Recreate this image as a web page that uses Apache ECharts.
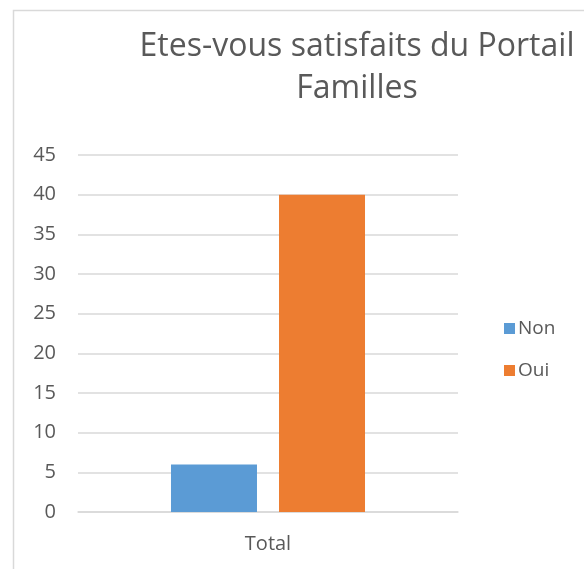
<!DOCTYPE html>
<html>
<head>
<meta charset="utf-8">
<script src="https://cdn.jsdelivr.net/npm/echarts@6/dist/echarts.min.js"></script>
<style>
  html, body { margin: 0; padding: 0; background: #fff; }
  #chart { width: 584px; height: 569px; }
</style>
</head>
<body>
<div id="chart"></div>
<script>
const categories = ['Total'];
const nonValues = [6];
const ouiValues = [40];
const seriesNames = ['Non', 'Oui'];

const textColor = '#595959';
const fontFamily = '"Open Sans", "Noto Sans", sans-serif';

const chart = echarts.init(document.getElementById('chart'));

chart.setOption({
  animation: false,
  title: {
    text: 'Etes-vous satisfaits du Portail\nFamilles',
    left: 352,
    top: 21,
    textAlign: 'center',
    textStyle: {
      fontFamily: fontFamily,
      fontWeight: 'normal',
      fontSize: 32,
      lineHeight: 42,
      color: textColor
    }
  },
  graphic: [{
    type: 'rect',
    shape: { x: 13.5, y: 10.5, width: 600, height: 600 },
    style: { fill: 'none', stroke: '#d9d9d9', lineWidth: 1.5 },
    silent: true
  }],
  legend: {
    orient: 'vertical',
    left: 499,
    top: 314,
    itemWidth: 11,
    itemHeight: 11,
    itemGap: 23,
    icon: 'rect',
    textStyle: { fontFamily: fontFamily, fontSize: 19, color: textColor, padding: [0, 0, 0, -2] },
    data: seriesNames
  },
  grid: { left: 78, right: 126, top: 155, bottom: 57 },
  xAxis: {
    type: 'category',
    data: categories,
    axisLine: { show: true, lineStyle: { color: '#d9d9d9', width: 1.5 } },
    axisTick: { show: false },
    axisLabel: { fontFamily: fontFamily, fontSize: 20, color: textColor, margin: 22 }
  },
  yAxis: {
    type: 'value',
    min: 0,
    max: 45,
    interval: 5,
    axisLine: { show: false },
    axisTick: { show: false },
    splitLine: { lineStyle: { color: '#d9d9d9', width: 1.5 } },
    axisLabel: { fontFamily: fontFamily, fontSize: 20, color: textColor, margin: 22 }
  },
  series: [
    {
      name: seriesNames[0],
      type: 'bar',
      data: nonValues,
      barWidth: 86,
      barGap: '25.6%',
      itemStyle: { color: '#5b9bd5' }
    },
    {
      name: seriesNames[1],
      type: 'bar',
      data: ouiValues,
      barWidth: 86,
      barGap: '25.6%',
      itemStyle: { color: '#ed7d31' }
    }
  ]
});
</script>
</body>
</html>
